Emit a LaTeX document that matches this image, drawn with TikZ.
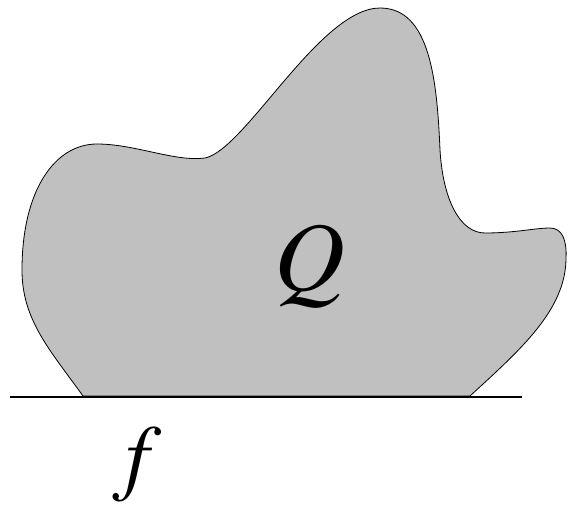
\documentclass[tikz,border=0pt]{standalone}
\usepackage{mathptmx}
\usepackage{graphicx}
\begin{document}
\begin{tikzpicture}[x=1pt,y=-1pt,
  blob/.style={draw=black,line width=0.8pt,fill=blobgray,line join=round},
  ground/.style={draw=black,line width=1.6pt},
  biglabel/.style={inner sep=0pt}]
\definecolor{blobgray}{RGB}{192,192,192}
\useasboundingbox (0,0) rectangle (568,508);
\path[blob] (83,396)
 .. controls (50,350) and (22,320) .. (22,270)
 .. controls (22,190) and (55,144) .. (97,144)
 .. controls (135,144) and (175,162) .. (205,158)
 .. controls (245,150) and (320,8) .. (380,8)
 .. controls (430,8) and (437,80) .. (440,150)
 .. controls (443,200) and (460,233) .. (485,233)
 .. controls (515,233) and (535,228) .. (550,228)
 .. controls (562,228) and (567,240) .. (566,258)
 .. controls (566,310) and (520,350) .. (470,396)
 -- cycle;
\coordinate (gl) at (10,397);
\coordinate (gr) at (522,397);
\draw[ground] (gl) -- (gr);
\node[biglabel] (Q) at (310,266) {\scalebox{9.8}{$Q$}};
\node[biglabel] (f) at (137,465) {\scalebox{8.5}{$f$}};
\end{tikzpicture}
\end{document}
